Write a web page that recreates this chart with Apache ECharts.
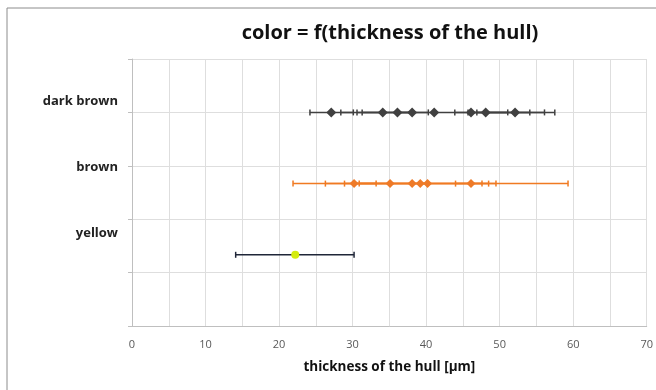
<!DOCTYPE html>
<html><head><meta charset="utf-8">
<script src="https://cdn.jsdelivr.net/npm/echarts@6/dist/echarts.min.js"></script>
<style>html,body{margin:0;padding:0;background:#fff}#c{width:656px;height:390px}</style>
</head><body><div id="c"></div>
<script>
// ---- data ----
const categories = ['dark brown', 'brown', 'yellow'];
const categoryY = [3, 2, 1];
const xTicks = [0, 10, 20, 30, 40, 50, 60, 70];

const darkBrownX    = [27.1, 34.1, 36.1, 38.1, 41.1, 46.1, 48.1, 52.1];
const darkBrownLow  = [24.2, 30.6, 31.3, 28.4, 36.1, 43.9, 45.7, 46.9];
const darkBrownHigh = [30.1, 38.1, 38.1, 40.3, 56.1, 51.1, 54.1, 57.5];

const brownX    = [30.2, 35.1, 38.1, 39.2, 40.2, 46.1];
const brownLow  = [26.3, 28.9, 30.9, 30.2, 21.9, 44.0];
const brownHigh = [33.2, 40.2, 47.6, 48.5, 49.5, 59.3];

const yellowX    = [22.2];
const yellowLow  = [14.1];
const yellowHigh = [30.2];

const seriesDefs = [
  { name: categories[0], y: categoryY[0], x: darkBrownX, lo: darkBrownLow, hi: darkBrownHigh,
    barColor: '#404040', markColor: '#404040', symbol: 'diamond', size: 10 },
  { name: categories[1], y: categoryY[1], x: brownX, lo: brownLow, hi: brownHigh,
    barColor: '#f07a22', markColor: '#ee7a28', symbol: 'diamond', size: 9 },
  { name: categories[2], y: categoryY[2], x: yellowX, lo: yellowLow, hi: yellowHigh,
    barColor: '#1f2638', markColor: '#d4ec10', symbol: 'circle', size: 8 }
];

const series = [];
seriesDefs.forEach(d => {
  series.push({
    type: 'custom',
    name: d.name + ' err',
    data: d.x.map((v, i) => [v, d.y, d.lo[i], d.hi[i]]),
    encode: { x: [0, 2, 3], y: 1 },
    z: 2,
    renderItem: function (params, api) {
      const y = api.value(1);
      const p1 = api.coord([api.value(2), y]);
      const p2 = api.coord([api.value(3), y]);
      const h = 3;
      const st = { stroke: d.barColor, lineWidth: 1.5 };
      return {
        type: 'group',
        children: [
          { type: 'line', shape: { x1: p1[0], y1: p1[1], x2: p2[0], y2: p2[1] }, style: st },
          { type: 'line', shape: { x1: p1[0], y1: p1[1] - h, x2: p1[0], y2: p1[1] + h }, style: st },
          { type: 'line', shape: { x1: p2[0], y1: p2[1] - h, x2: p2[0], y2: p2[1] + h }, style: st }
        ]
      };
    }
  });
  series.push({
    type: 'scatter',
    name: d.name,
    data: d.x.map(v => [v, d.y]),
    symbol: d.symbol,
    symbolSize: d.size,
    itemStyle: { color: d.markColor, opacity: 1 },
    z: 3
  });
});

const chart = echarts.init(document.getElementById('c'));
const labelFont = '"Open Sans", "Liberation Sans", sans-serif';
chart.setOption({
  backgroundColor: '#ffffff',
  animation: false,
  title: {
    text: 'color = f(thickness of the hull)',
    left: 385, top: 18, textAlign: 'center',
    textStyle: { fontFamily: labelFont, fontWeight: 'bold', fontSize: 20, color: '#111' }
  },
  grid: { left: 132, right: 8, top: 59, bottom: 64 },
  xAxis: {
    type: 'value', min: 0, max: 70, interval: 5,
    name: 'thickness of the hull [µm]', nameLocation: 'middle', nameGap: 34,
    nameTextStyle: { fontFamily: labelFont, fontWeight: 'bold', fontSize: 13.5, color: '#111' },
    axisLine: { lineStyle: { color: '#bfbfbf' } },
    axisTick: { show: false },
    axisLabel: {
      fontFamily: labelFont, fontSize: 11, color: '#595959', margin: 13,
      formatter: v => (xTicks.indexOf(v) >= 0 ? String(v) : '')
    },
    splitLine: { show: true, lineStyle: { color: '#dedede' } }
  },
  yAxis: {
    type: 'value', min: 0, max: 3.75, interval: 0.75,
    axisLine: { show: true, lineStyle: { color: '#bfbfbf' } },
    axisTick: { show: true, length: 4, lineStyle: { color: '#bfbfbf' } },
    axisLabel: { show: false },
    splitLine: { show: true, lineStyle: { color: '#dedede' } }
  },
  graphic: [
    { type: 'rect', shape: { x: 7, y: 8, width: 700, height: 400 },
      style: { fill: 'none', stroke: '#8c8c8c', lineWidth: 1 }, silent: true, z: -1 },
    { type: 'text', right: 656 - 118, top: 95,
      style: { text: categories[0], font: 'bold 13px ' + labelFont, fill: '#222', textAlign: 'right' } },
    { type: 'text', right: 656 - 118, top: 161,
      style: { text: categories[1], font: 'bold 13px ' + labelFont, fill: '#222', textAlign: 'right' } },
    { type: 'text', right: 656 - 118, top: 227,
      style: { text: categories[2], font: 'bold 13px ' + labelFont, fill: '#222', textAlign: 'right' } }
  ],
  series: series
});
</script>
</body></html>
